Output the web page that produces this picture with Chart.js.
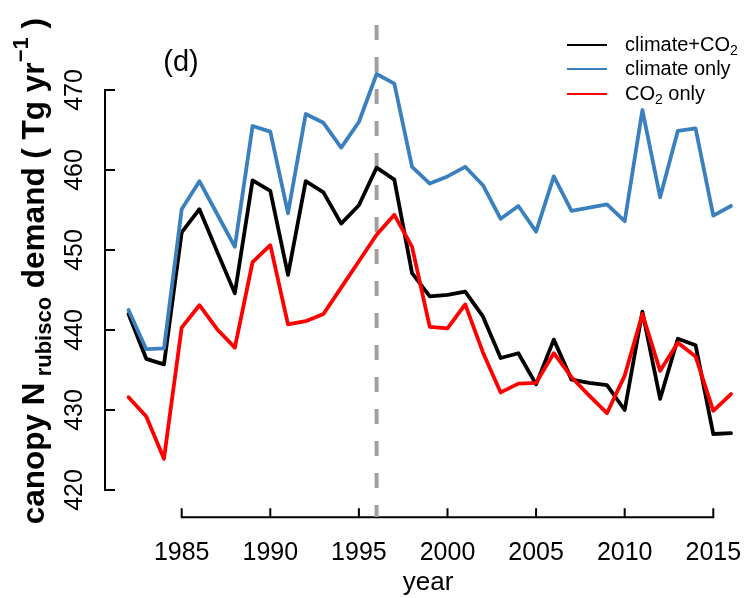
<!DOCTYPE html>
<html>
<head>
<meta charset="utf-8">
<script src="https://cdn.jsdelivr.net/npm/chart.js@4"></script>
<style>
  html, body { margin: 0; padding: 0; background: #fff; }
  canvas { display: block; }
</style>
</head>
<body>
<canvas id="nChart" width="748" height="598"></canvas>
<script>
// values (Tg N per year)
const years = [1982, 1983, 1984, 1985, 1986, 1987, 1988, 1989, 1990, 1991, 1992, 1993,
  1994, 1995, 1996, 1997, 1998, 1999, 2000, 2001, 2002, 2003, 2004, 2005, 2006, 2007,
  2008, 2009, 2010, 2011, 2012, 2013, 2014, 2015, 2016];
const climateCO2 = [442.0, 436.4, 435.7, 452.2, 455.1, 449.8, 444.6, 458.7, 457.4, 446.9,
  458.6, 457.2, 453.3, 455.6, 460.3, 458.8, 447.1, 444.2, 444.4, 444.8, 441.7, 436.5,
  437.1, 433.2, 438.8, 433.8, 433.4, 433.1, 430.0, 442.3, 431.4, 438.9, 438.1, 427.0, 427.1];
const climateOnly = [442.5, 437.6, 437.7, 455.1, 458.6, 454.5, 450.4, 465.5, 464.8, 454.6,
  467.0, 465.9, 462.8, 466.0, 472.0, 470.8, 460.4, 458.3, 459.2, 460.4, 458.1, 453.9,
  455.5, 452.3, 459.2, 454.9, 455.3, 455.7, 453.6, 467.5, 456.6, 464.9, 465.2, 454.3, 455.5];
const co2Only = [431.6, 429.2, 423.9, 440.3, 443.1, 440.1, 437.8, 448.5, 450.6, 440.7,
  441.1, 442.0, 445.3, 448.6, 451.9, 454.4, 450.4, 440.4, 440.2, 443.2, 437.2, 432.2,
  433.3, 433.4, 437.1, 434.1, 431.8, 429.6, 434.3, 442.0, 434.9, 438.4, 436.7, 429.9, 432.0];

const xTicks = [1985, 1990, 1995, 2000, 2005, 2010, 2015];
const yTicks = [420, 430, 440, 450, 460, 470];
const markYear = 1996;

const seriesNames = ['climate+CO2', 'climate only', 'CO2 only'];
const seriesColors = ['#000000', '#3a80be', '#ff0000'];
const panelLabel = '(d)';
const xTitle = 'year';

const FONT = '"Liberation Sans", Arial, Helvetica, sans-serif';
const X_MIN = 1980.672, X_MAX = 2016.959;
const Y_MIN = 416.59, Y_MAX = 478.125;

function pts(vals) {
  return years.map((yr, i) => ({ x: yr, y: vals[i] }));
}

function lineSet(label, vals, color) {
  return {
    label: label,
    data: pts(vals),
    borderColor: color,
    borderWidth: 3.8,
    pointRadius: 0,
    tension: 0,
    borderCapStyle: 'round',
    borderJoinStyle: 'round',
    fill: false
  };
}

// draw "CO2"-style text with a subscript 2
function subText(ctx, str, x, y, size) {
  const parts = str.split('CO2');
  ctx.textAlign = 'left';
  let cx = x;
  parts.forEach((p, i) => {
    ctx.font = size + 'px ' + FONT;
    ctx.fillText(p, cx, y);
    cx += ctx.measureText(p).width;
    if (i < parts.length - 1) {
      ctx.fillText('CO', cx, y);
      cx += ctx.measureText('CO').width;
      ctx.font = Math.round(size * 0.7) + 'px ' + FONT;
      ctx.fillText('2', cx, y + 6);
      cx += ctx.measureText('2').width;
    }
  });
}

const rAxes = {
  id: 'rAxes',
  beforeDatasetsDraw(chart) {
    const ctx = chart.ctx;
    const xs = chart.scales.x, ys = chart.scales.y;
    const area = chart.chartArea;
    ctx.save();
    ctx.strokeStyle = '#000';
    ctx.fillStyle = '#000';
    ctx.lineWidth = 2;
    ctx.lineCap = 'butt';

    // y axis, ticks pointing inward
    const ax = area.left;
    ctx.beginPath();
    ctx.moveTo(ax, ys.getPixelForValue(yTicks[0]));
    ctx.lineTo(ax, ys.getPixelForValue(yTicks[yTicks.length - 1]));
    yTicks.forEach(v => {
      const py = ys.getPixelForValue(v);
      ctx.moveTo(ax - 1, py);
      ctx.lineTo(ax + 10, py);
    });
    ctx.stroke();

    // x axis
    const ay = area.bottom;
    ctx.beginPath();
    ctx.moveTo(xs.getPixelForValue(xTicks[0]), ay);
    ctx.lineTo(xs.getPixelForValue(xTicks[xTicks.length - 1]), ay);
    xTicks.forEach(v => {
      const px = xs.getPixelForValue(v);
      ctx.moveTo(px, ay + 1);
      ctx.lineTo(px, ay - 9);
    });
    ctx.stroke();

    // tick labels
    ctx.font = '25px ' + FONT;
    ctx.textAlign = 'center';
    ctx.textBaseline = 'alphabetic';
    xTicks.forEach(v => ctx.fillText(String(v), xs.getPixelForValue(v), 560));
    yTicks.forEach(v => {
      ctx.save();
      ctx.translate(82, ys.getPixelForValue(v));
      ctx.rotate(-Math.PI / 2);
      ctx.fillText(String(v), 0, 0);
      ctx.restore();
    });

    // axis titles
    ctx.font = '26px ' + FONT;
    ctx.fillText(xTitle, 428, 590);

    const big = 'bold 31.5px ' + FONT, small = 'bold 22px ' + FONT;
    const segs = [
      { t: 'canopy N', f: big, dy: 0 },
      { t: ' rubisco', f: small, dy: 7 },
      { t: ' demand ( Tg yr', f: big, dy: 0 },
      { t: '\u22121', f: small, dy: -16 },
      { t: ' )', f: big, dy: 0 }
    ];
    let total = 0;
    segs.forEach(s => { ctx.font = s.f; s.w = ctx.measureText(s.t).width; total += s.w; });
    const cy = (area.top + area.bottom) / 2;
    ctx.save();
    ctx.translate(43.5, 0);
    ctx.rotate(-Math.PI / 2);
    ctx.textAlign = 'left';
    let cx = -(cy + total / 2);
    segs.forEach(s => {
      ctx.font = s.f;
      ctx.fillText(s.t, cx, s.dy);
      cx += s.w;
    });
    ctx.restore();

    // panel label
    ctx.font = '29px ' + FONT;
    ctx.textAlign = 'center';
    ctx.fillText(panelLabel, 181, 71);

    // legend
    const legY = [45, 69, 94];
    seriesNames.forEach((name, i) => {
      ctx.strokeStyle = seriesColors[i];
      ctx.lineWidth = 2.2;
      ctx.beginPath();
      ctx.moveTo(567, legY[i]);
      ctx.lineTo(607, legY[i]);
      ctx.stroke();
      ctx.fillStyle = '#000';
      ctx.textBaseline = 'middle';
      subText(ctx, name, 625, legY[i], 20);
      ctx.textBaseline = 'alphabetic';
    });
    ctx.restore();
  }
};

const ctx = document.getElementById('nChart').getContext('2d');
const nChart = new Chart(ctx, {
  type: 'line',
  data: {
    datasets: [
      lineSet(seriesNames[2], co2Only, seriesColors[2]),
      lineSet(seriesNames[1], climateOnly, seriesColors[1]),
      lineSet(seriesNames[0], climateCO2, seriesColors[0]),
      {
        label: 'marker',
        data: [{ x: markYear, y: Y_MAX }, { x: markYear, y: Y_MIN }],
        borderColor: '#a0a0a0',
        borderWidth: 4,
        borderDash: [15, 17],
        borderCapStyle: 'butt',
        pointRadius: 0,
        fill: false
      }
    ]
  },
  options: {
    responsive: false,
    animation: false,
    devicePixelRatio: 1,
    layout: { padding: { left: 105, top: 25, right: 0, bottom: 80.7 } },
    plugins: { legend: { display: false }, tooltip: { enabled: false } },
    scales: {
      x: { type: 'linear', min: X_MIN, max: X_MAX, display: false },
      y: { type: 'linear', min: Y_MIN, max: Y_MAX, display: false }
    }
  },
  plugins: [rAxes]
});
</script>
</body>
</html>
